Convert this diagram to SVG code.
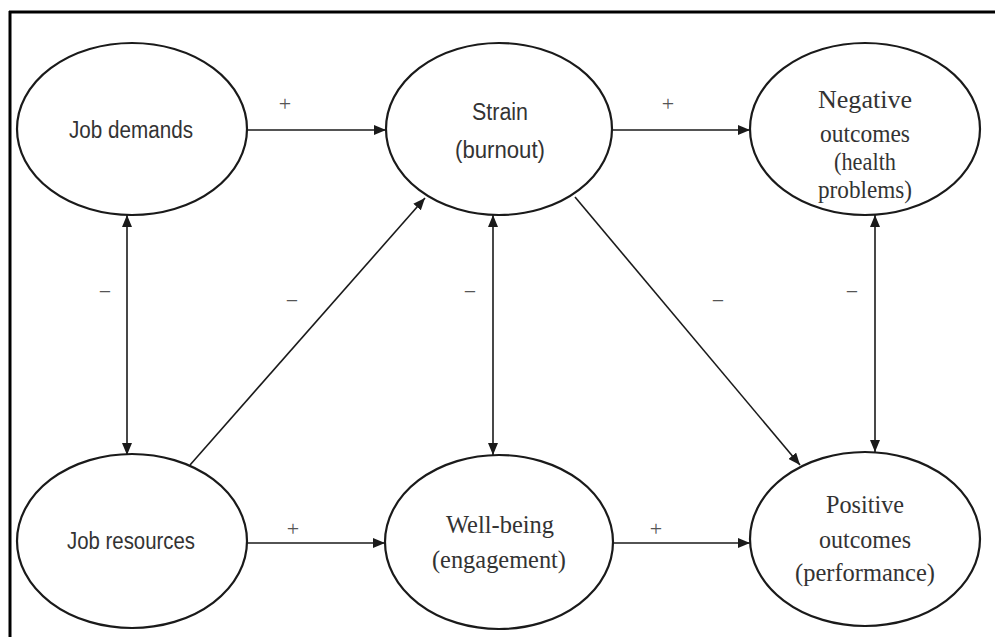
<svg xmlns="http://www.w3.org/2000/svg" width="995" height="637" viewBox="0 0 995 637">
<style>
.node ellipse{fill:none;stroke:#1a1a1a;stroke-width:2.2}
.sans{font-family:"Liberation Sans",Arial,sans-serif;font-size:23px;fill:#333;text-anchor:middle}
.serif{font-family:"Liberation Serif","Times New Roman",serif;font-size:26px;fill:#333;text-anchor:middle}
.conn line{stroke:#1a1a1a;stroke-width:1.6}
.lbl{font-family:"Liberation Serif","Times New Roman",serif;font-size:22px;fill:#555;text-anchor:middle}
</style>
<defs>
<marker id="ah" viewBox="0 0 12 10" refX="12" refY="5" markerWidth="12" markerHeight="10" markerUnits="userSpaceOnUse" orient="auto-start-reverse">
<path d="M0,0 L12,5 L0,10 z" fill="#1a1a1a"/>
</marker>
</defs>
<rect width="995" height="637" fill="#fff"/>
<g id="frame" stroke="#000" stroke-width="3">
<line x1="9" y1="12" x2="995" y2="12"/>
<line x1="10" y1="11" x2="10" y2="637"/>
</g>
<g id="job-demands" class="node">
<ellipse cx="132" cy="129" rx="115" ry="86"/>
<text class="sans" x="131" y="138" textLength="124" lengthAdjust="spacingAndGlyphs">Job demands</text>
</g>
<g id="strain" class="node">
<ellipse cx="499" cy="129" rx="113" ry="86"/>
<text class="sans" x="500" y="120" textLength="56" lengthAdjust="spacingAndGlyphs">Strain</text>
<text class="sans" x="500" y="158" textLength="90" lengthAdjust="spacingAndGlyphs">(burnout)</text>
</g>
<g id="negative-outcomes" class="node">
<ellipse cx="865" cy="129" rx="115" ry="86"/>
<text class="serif" x="865" y="108" textLength="94" lengthAdjust="spacingAndGlyphs">Negative</text>
<text class="serif" x="865" y="142" textLength="90" lengthAdjust="spacingAndGlyphs">outcomes</text>
<text class="serif" x="865" y="170" textLength="62" lengthAdjust="spacingAndGlyphs">(health</text>
<text class="serif" x="865" y="198" textLength="94" lengthAdjust="spacingAndGlyphs">problems)</text>
</g>
<g id="job-resources" class="node">
<ellipse cx="132" cy="541" rx="115" ry="87"/>
<text class="sans" x="131" y="549" textLength="128" lengthAdjust="spacingAndGlyphs">Job resources</text>
</g>
<g id="well-being" class="node">
<ellipse cx="499" cy="542" rx="114" ry="87"/>
<text class="serif" x="500" y="533" textLength="108" lengthAdjust="spacingAndGlyphs">Well-being</text>
<text class="serif" x="499" y="568" textLength="134" lengthAdjust="spacingAndGlyphs">(engagement)</text>
</g>
<g id="positive-outcomes" class="node">
<ellipse cx="865" cy="539" rx="115" ry="87"/>
<text class="serif" x="865" y="513" textLength="78" lengthAdjust="spacingAndGlyphs">Positive</text>
<text class="serif" x="865" y="548" textLength="92" lengthAdjust="spacingAndGlyphs">outcomes</text>
<text class="serif" x="865" y="581" textLength="140" lengthAdjust="spacingAndGlyphs">(performance)</text>
</g>
<g id="connectors" class="conn">
<line x1="247" y1="130" x2="386" y2="130" marker-end="url(#ah)"/>
<line x1="613" y1="130" x2="750" y2="130" marker-end="url(#ah)"/>
<line x1="127" y1="215" x2="127" y2="455" marker-start="url(#ah)" marker-end="url(#ah)"/>
<line x1="493" y1="215" x2="493" y2="455" marker-start="url(#ah)" marker-end="url(#ah)"/>
<line x1="875" y1="215" x2="875" y2="452" marker-start="url(#ah)" marker-end="url(#ah)"/>
<line x1="190" y1="465" x2="425" y2="198" marker-end="url(#ah)"/>
<line x1="575" y1="197" x2="800" y2="465" marker-end="url(#ah)"/>
<line x1="247" y1="543" x2="385" y2="543" marker-end="url(#ah)"/>
<line x1="613" y1="543" x2="750" y2="543" marker-end="url(#ah)"/>
</g>
<g id="labels">
<text class="lbl" x="285" y="111">+</text>
<text class="lbl" x="668" y="111">+</text>
<text class="lbl" x="105" y="299">−</text>
<text class="lbl" x="292" y="308">−</text>
<text class="lbl" x="470" y="299">−</text>
<text class="lbl" x="718" y="308">−</text>
<text class="lbl" x="852" y="299">−</text>
<text class="lbl" x="293" y="536">+</text>
<text class="lbl" x="656" y="536">+</text>
</g>
</svg>
